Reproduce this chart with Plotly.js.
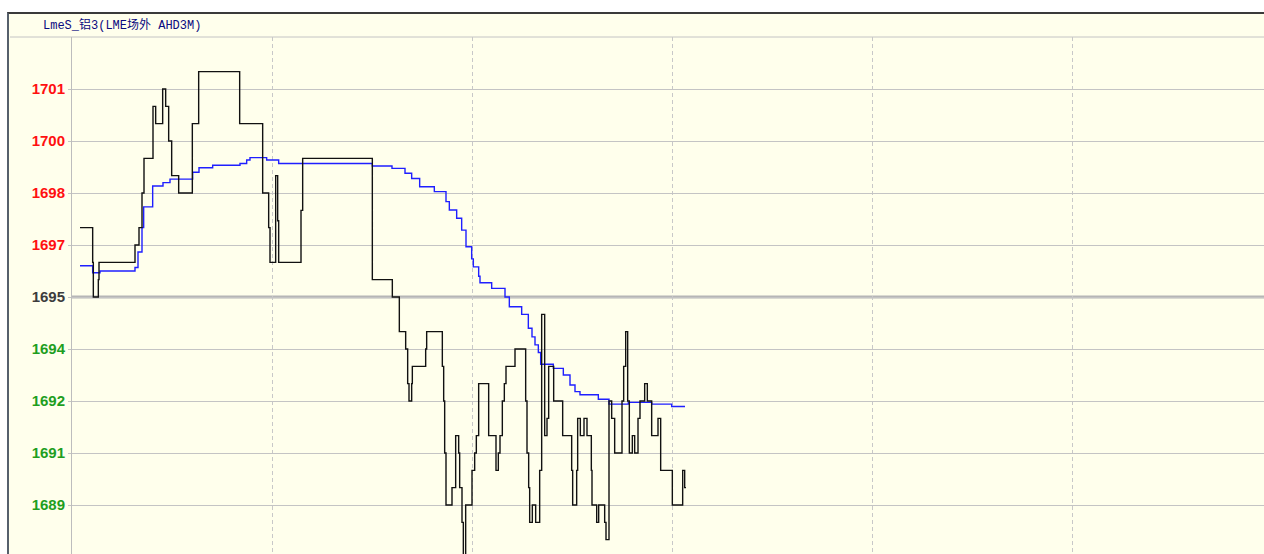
<!DOCTYPE html>
<html><head><meta charset="utf-8">
<script src="https://cdn.plot.ly/plotly-3.0.1.min.js"></script>
<style>
html,body{margin:0;padding:0;background:#fff;width:1264px;height:554px;overflow:hidden;}
#frame{position:absolute;left:7px;top:12px;border-left:2px solid #56606c;border-top:2px solid #3a3a3a;}
#chart{width:1263px;height:543px;}
</style></head>
<body><div id="frame"><div id="chart"></div></div>
<script>
// minutes from session start (60 min per dashed division)
const priceTimes = [2.4,6.2,6.4,7.9,8.1,18.9,20.1,21.0,21.6,24.3,25.1,27.2,28.1,29.0,29.9,32.0,36.1,38.0,50.3,57.2,59.0,59.4,61.1,61.7,62.0,68.7,69.2,90.1,96.1,98.2,100.1,100.7,101.1,101.9,102.1,106.1,106.4,111.1,111.5,111.8,112.2,114.0,115.1,116.0,116.3,117.0,117.4,118.1,120.0,120.8,121.3,122.0,125.0,127.2,127.9,128.4,129.1,129.7,130.2,132.9,136.1,136.5,137.0,137.3,138.1,139.1,140.3,140.9,141.8,142.5,143.0,144.5,147.2,149.9,150.2,151.4,151.7,152.5,153.6,154.5,155.8,156.0,157.4,158.0,159.8,160.2,161.1,161.9,162.8,165.0,165.5,166.1,166.7,167.2,168.1,168.8,169.8,170.4,171.8,172.6,173.9,175.8,176.6,180.1,183.2,183.8,184.2];
const priceValues = [1697.0,1696.0,1695.0,1695.5,1696.0,1696.5,1697.0,1698.0,1699.0,1700.5,1700.0,1701.0,1700.5,1699.5,1698.5,1698.0,1700.0,1701.5,1700.0,1698.0,1697.0,1696.0,1698.5,1697.2,1696.0,1697.5,1699.0,1695.5,1695.0,1694.0,1693.5,1692.5,1692.0,1692.5,1693.0,1693.5,1694.0,1693.0,1692.0,1690.5,1689.0,1689.5,1691.0,1690.5,1689.5,1688.5,1687.5,1689.0,1690.0,1690.5,1691.0,1692.5,1691.0,1690.0,1690.5,1691.0,1692.0,1692.5,1693.0,1693.5,1692.0,1690.5,1689.5,1688.5,1689.0,1688.5,1690.0,1694.5,1691.0,1691.5,1693.0,1692.0,1691.0,1690.0,1689.0,1690.0,1691.5,1691.0,1691.5,1691.0,1690.0,1689.0,1688.5,1689.0,1688.5,1688.0,1692.0,1691.5,1690.5,1692.0,1693.0,1694.0,1692.0,1690.5,1691.0,1690.5,1691.5,1692.0,1692.5,1692.0,1691.0,1691.5,1690.0,1689.0,1690.0,1689.5,1689.5];
const avgTimes = [2.4,6.2,8.4,18.9,19.8,21.0,21.5,24.2,27.3,29.4,36.2,38.1,42.2,50.4,52.4,53.4,58.4,62.0,90.1,96.0,99.9,101.9,104.3,108.7,112.2,113.2,115.4,116.9,118.2,119.9,120.4,122.0,122.4,125.9,129.9,131.2,134.9,136.9,138.0,138.9,139.9,140.6,144.4,147.4,149.4,150.9,152.4,157.9,161.1,166.9,173.9,179.9,183.9];
const avgValues = [1695.9,1695.7,1695.75,1695.85,1696.3,1697.0,1697.6,1698.2,1698.3,1698.4,1698.6,1698.73,1698.8,1698.85,1698.95,1699.02,1698.95,1698.85,1698.78,1698.71,1698.57,1698.42,1698.18,1698.04,1697.75,1697.51,1697.27,1696.93,1696.45,1696.1,1695.87,1695.6,1695.41,1695.25,1695.0,1694.72,1694.5,1694.1,1693.85,1693.62,1693.4,1693.06,1692.94,1692.75,1692.46,1692.27,1692.18,1692.05,1691.91,1691.96,1691.91,1691.84,1691.84];
const prevClose = 1695;
const yTickVals = [1689,1690.5,1692,1693.5,1695,1696.5,1698,1699.5,1701];
const yTickLabels = ['1689','1691','1692','1694','1695','1697','1698','1700','1701'];
const chartTitle = 'LmeS_铝3(LME场外 AHD3M)';

const bg = '#FFFFEC';
const tickText = yTickVals.map((v,i)=>{
  const c = v>prevClose ? '#FF1010' : (v<prevClose ? '#1E9E1E' : '#3C3C3C');
  return '<span style="color:'+c+'"><b>'+yTickLabels[i]+'</b></span>';
});

const traces = [
  {x: avgTimes, y: avgValues, type:'scatter', mode:'lines', line:{shape:'hv', color:'#1F1FFF', width:1.4}, hoverinfo:'skip'},
  {x: priceTimes, y: priceValues, type:'scatter', mode:'lines', line:{shape:'hv', color:'#111111', width:1.4}, hoverinfo:'skip'}
];
const layout = {
  width:1263, height:543,
  margin:{l:63, r:0, t:23, b:0, pad:0},
  paper_bgcolor:bg, plot_bgcolor:bg,
  showlegend:false,
  xaxis:{range:[0,360], tick0:0, dtick:60, showgrid:true, gridcolor:'#C8C8C8', griddash:'4px,3px', gridwidth:1,
         zeroline:false, showline:false, showticklabels:false, ticks:'', fixedrange:true},
  yaxis:{range:[1687.5,1702.5], tickmode:'array', tickvals:yTickVals, ticktext:tickText,
         showgrid:true, gridcolor:'#C4C4C4', gridwidth:1, zeroline:false,
         showline:true, linecolor:'#BDBDBD', linewidth:1, ticks:'outside', ticklen:3, tickcolor:'#C4C4C4',
         ticklabelstandoff:0,
         tickfont:{family:'Liberation Sans, Arial, sans-serif', size:15}, fixedrange:true},
  shapes:[
    {type:'line', xref:'paper', yref:'y', x0:0, x1:1, y0:prevClose, y1:prevClose, line:{color:'#B6B6B6', width:3}, layer:'below'},
    {type:'line', xref:'paper', yref:'paper', x0:-0.0517, x1:1, y0:1, y1:1, line:{color:'#C4C4C4', width:1}, layer:'below'}
  ],
  annotations:[
    {text:chartTitle, xref:'paper', yref:'paper', x:-0.0258, y:1.023, xanchor:'left', yanchor:'middle', showarrow:false,
     font:{family:'Liberation Mono, Noto Sans CJK SC, monospace', size:12, color:'#0A0A80'}}
  ]
};
Plotly.newPlot('chart', traces, layout, {staticPlot:true, displayModeBar:false});
</script>
</body></html>
